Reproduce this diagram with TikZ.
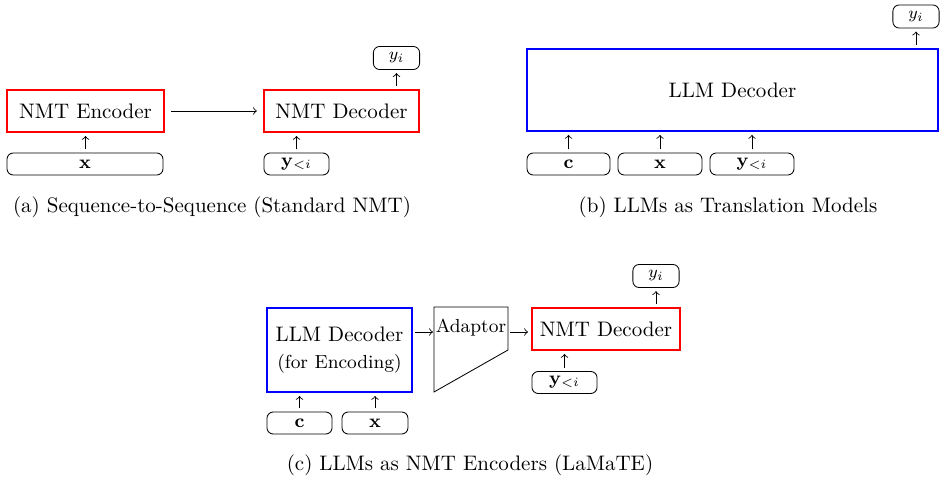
\documentclass[tikz,border=0pt]{standalone}
\usetikzlibrary{arrows,positioning,calc}

\tikzset{
  nmtbox/.style={draw=red,thick,minimum height=20pt,inner sep=0pt},
  llmbox/.style={draw=blue,thick,inner sep=0pt},
  tokbox/.style={draw,rounded corners=3pt,minimum height=10.5pt,inner sep=0pt,font=\small},
  outbox/.style={draw,rounded corners=3pt,minimum width=22pt,minimum height=11pt,inner sep=0pt,font=\footnotesize},
  link/.style={->,shorten >=1.5pt,shorten <=1.5pt}
}

\begin{document}
\begin{tikzpicture}[x=0.47619pt,y=0.47619pt]
    \useasboundingbox (0,0) rectangle (941,-478);

    % (a) standard NMT
    \node[nmtbox, minimum width=74.8pt] (enc) at (85.5,-111) {NMT Encoder};
    \node[nmtbox, minimum width=73.8pt] (deca) at (341.5,-111) {NMT Decoder};
    \node[tokbox, minimum width=74.3pt] (xa) at (85,-164) {$\mathbf{x}$};
    \node[tokbox, minimum width=31pt] (ya) at (296.5,-164) {$\mathbf{y}_{<i}$};
    \node[outbox] (oa) at (396.5,-58) {$y_i$};
    \draw[link] (xa.north -| enc) -- (enc.south);
    \draw[->,shorten >=3pt,shorten <=3pt] (enc) -- (deca);
    \draw[link] (ya.north) -- (ya.north |- deca.south);
    \draw[link] (deca.north -| oa) -- (oa.south);
    \node (capa) at (212,-207) {(a) Sequence-to-Sequence (Standard NMT)};

    % (b) LLM as translation model
    \node[llmbox, minimum width=195.7pt, minimum height=39pt] (llmb) at (732.5,-90) {LLM Decoder};
    \node[tokbox, minimum width=39.5pt] (cb) at (568.5,-164) {$\mathbf{c}$};
    \node[tokbox, minimum width=40pt] (xb) at (660,-164) {$\mathbf{x}$};
    \node[tokbox, minimum width=40pt] (yb) at (752,-164) {$\mathbf{y}_{<i}$};
    \node[outbox] (ob) at (916,-16.5) {$y_i$};
    \draw[link] (cb.north) -- (cb.north |- llmb.south);
    \draw[link] (xb.north) -- (xb.north |- llmb.south);
    \draw[link] (yb.north) -- (yb.north |- llmb.south);
    \draw[link] (llmb.north -| ob) -- (ob.south);
    \node (capb) at (728,-207) {(b) LLMs as Translation Models};

    % (c) LaMaTE
    \node[llmbox, minimum width=69pt, minimum height=40pt, align=center] (llmc) at (339.5,-350) {LLM Decoder\\[1pt]{\small (for Encoding)}};
    \node[tokbox, minimum width=31pt] (cc) at (299.5,-423) {$\mathbf{c}$};
    \node[tokbox, minimum width=31.4pt] (xc) at (375,-423) {$\mathbf{x}$};
    \draw (434,-307) -- (508,-307) -- (508,-350) -- (434,-392) -- cycle;
    \node[font=\small] (adapt) at (471,-328) {Adaptor};
    \coordinate (adin) at (434,-332);
    \coordinate (adout) at (508,-332);
    \node[nmtbox, minimum width=70.5pt] (decc) at (606,-329) {NMT Decoder};
    \node[tokbox, minimum width=31pt] (yc) at (564.5,-382.5) {$\mathbf{y}_{<i}$};
    \node[outbox] (oc) at (656,-276) {$y_i$};
    \draw[link] (cc.north) -- (cc.north |- llmc.south);
    \draw[link] (xc.north) -- (xc.north |- llmc.south);
    \draw[->,shorten <=1pt,shorten >=0.5pt] (llmc.east |- adin) -- (adin);
    \draw[->,shorten <=1pt,shorten >=1.5pt] (adout) -- (adout -| decc.west);
    \draw[link] (yc.north) -- (yc.north |- decc.south);
    \draw[link] (decc.north -| oc) -- (oc.south);
    \node (capc) at (470,-465) {(c) LLMs as NMT Encoders (LaMaTE)};
\end{tikzpicture}
\end{document}
